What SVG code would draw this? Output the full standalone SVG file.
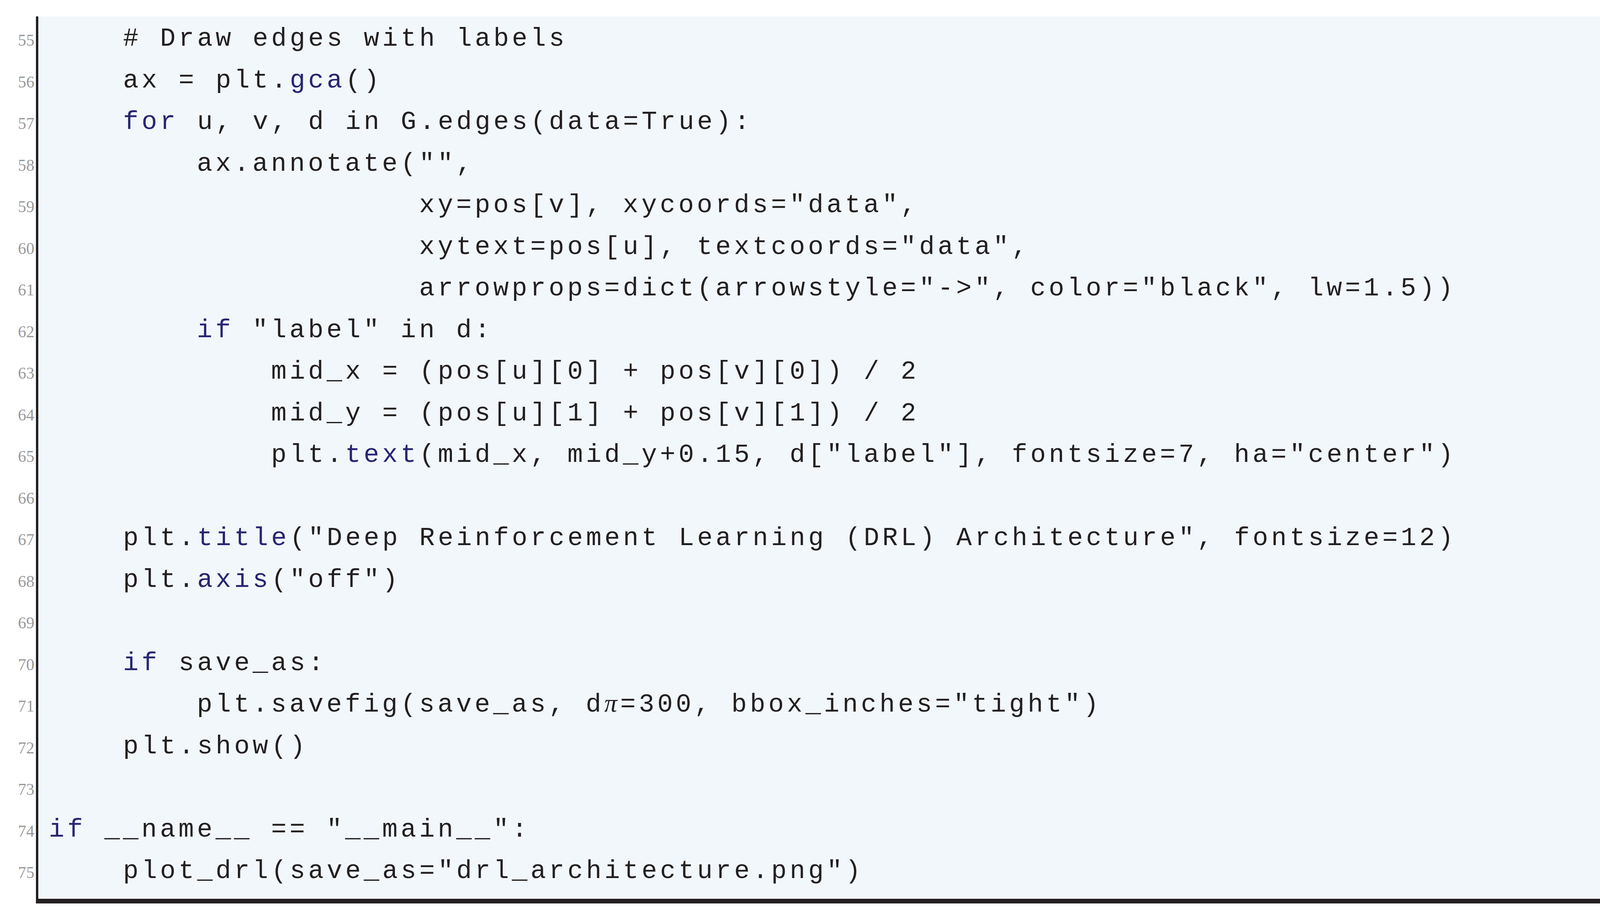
<svg xmlns="http://www.w3.org/2000/svg" width="4367" height="2339" viewBox="0 0 4367 2339" xml:space="preserve">
<style>
.c{font-family:"Liberation Mono",monospace;font-size:66px;letter-spacing:7.8px;fill:#231f20}
.k{fill:#262673}
.n{font-family:"Liberation Serif",serif;font-size:42px;fill:#999999;text-anchor:end}
</style>
<rect width="4367" height="2339" fill="#ffffff"/>
<g id="panel">
<rect x="94" y="42" width="4231" height="2264" fill="#f2f7fb"/>
<line x1="4325" y1="42" x2="4325" y2="2306" stroke="#231f20" stroke-width="2"/>
<rect x="92" y="42" width="6" height="2270" fill="#231f20"/>
<rect x="92" y="2300" width="4235" height="12" fill="#231f20"/>
</g>
<g id="linenumbers">
<text class="n" x="88" y="117">55</text>
<text class="n" x="88" y="224">56</text>
<text class="n" x="88" y="330">57</text>
<text class="n" x="88" y="437">58</text>
<text class="n" x="88" y="543">59</text>
<text class="n" x="88" y="650">60</text>
<text class="n" x="88" y="756">61</text>
<text class="n" x="88" y="863">62</text>
<text class="n" x="88" y="969">63</text>
<text class="n" x="88" y="1076">64</text>
<text class="n" x="88" y="1182">65</text>
<text class="n" x="88" y="1289">66</text>
<text class="n" x="88" y="1395">67</text>
<text class="n" x="88" y="1502">68</text>
<text class="n" x="88" y="1608">69</text>
<text class="n" x="88" y="1715">70</text>
<text class="n" x="88" y="1821">71</text>
<text class="n" x="88" y="1928">72</text>
<text class="n" x="88" y="2034">73</text>
<text class="n" x="88" y="2141">74</text>
<text class="n" x="88" y="2247">75</text>
</g>
<g id="code">
<text class="c" x="315" y="117"># Draw edges with labels</text>
<text class="c" x="315" y="224">ax = plt.<tspan class="k">gca</tspan>()</text>
<text class="c" x="315" y="330"><tspan class="k">for</tspan> u, v, d in G.edges(data=True):</text>
<text class="c" x="504" y="437">ax.annotate("",</text>
<text class="c" x="1073" y="543">xy=pos[v], xycoords="data",</text>
<text class="c" x="1073" y="650">xytext=pos[u], textcoords="data",</text>
<text class="c" x="1073" y="756">arrowprops=dict(arrowstyle="-&gt;", color="black", lw=1.5))</text>
<text class="c" x="504" y="863"><tspan class="k">if</tspan> "label" in d:</text>
<text class="c" x="694" y="969">mid_x = (pos[u][0] + pos[v][0]) / 2</text>
<text class="c" x="694" y="1076">mid_y = (pos[u][1] + pos[v][1]) / 2</text>
<text class="c" x="694" y="1182">plt.<tspan class="k">text</tspan>(mid_x, mid_y+0.15, d["label"], fontsize=7, ha="center")</text>
<text class="c" x="315" y="1395">plt.<tspan class="k">title</tspan>("Deep Reinforcement Learning (DRL) Architecture", fontsize=12)</text>
<text class="c" x="315" y="1502">plt.<tspan class="k">axis</tspan>("off")</text>
<text class="c" x="315" y="1715"><tspan class="k">if</tspan> save_as:</text>
<text class="c" x="504" y="1821">plt.savefig(save_as, d<tspan font-family="Liberation Serif,serif" font-style="italic">π</tspan>=300, bbox_inches="tight")</text>
<text class="c" x="315" y="1928">plt.show()</text>
<text class="c" x="125" y="2141"><tspan class="k">if</tspan> __name__ == "__main__":</text>
<text class="c" x="315" y="2247">plot_drl(save_as="drl_architecture.png")</text>
</g>
</svg>
